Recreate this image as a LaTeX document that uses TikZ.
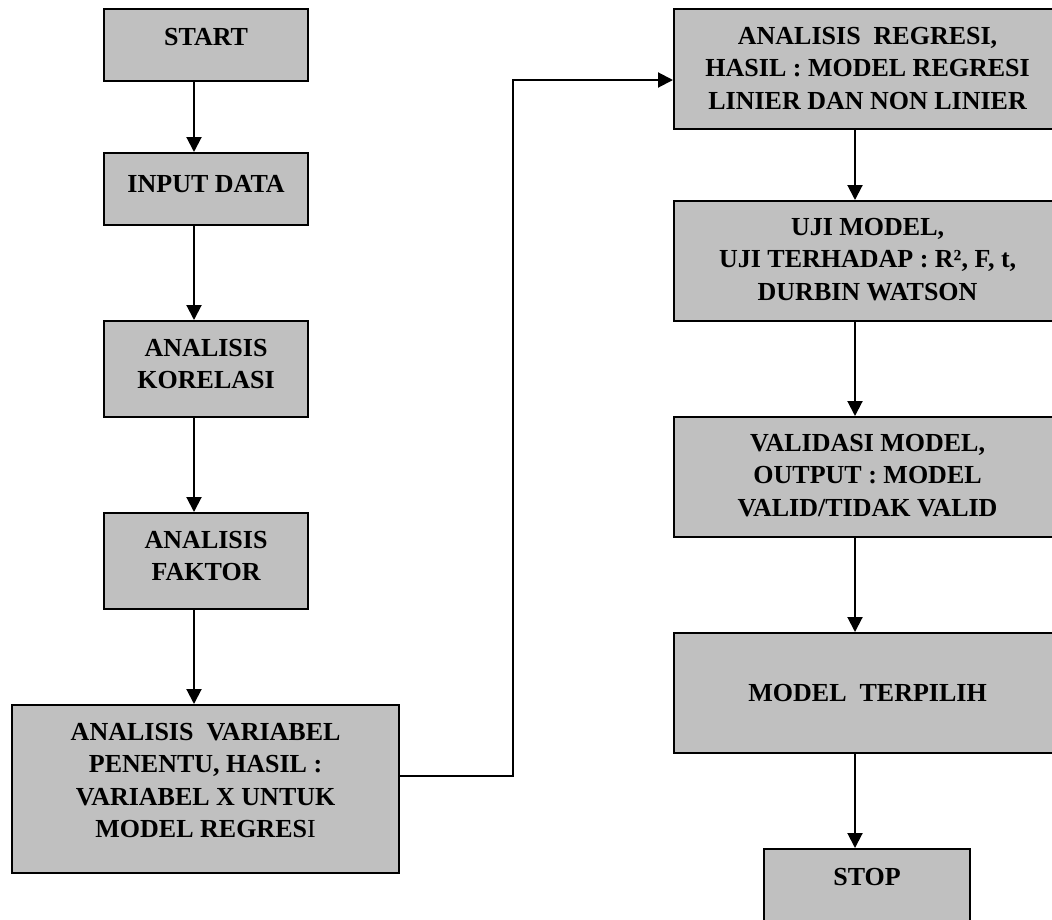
\documentclass[tikz,border=0pt]{standalone}
\usepackage{fontspec}
\setmainfont{Liberation Serif}
\usetikzlibrary{arrows.meta}
\definecolor{boxgray}{HTML}{C0C0C0}
\newcommand{\fcb}[4]{\parbox[c][#2][t]{#1}{\vspace*{#3}\centering #4\par}}
\begin{document}
\begin{tikzpicture}[x=1pt,y=-1pt,
  bx/.style={draw=black, line width=2.2pt, fill=boxgray, inner sep=0pt, anchor=north west,
    font=\fontsize{26}{32.5}\selectfont\bfseries},
  arr/.style={draw=black, line width=2pt, -{Triangle[width=15pt,length=15pt]}}]
\useasboundingbox (0,0) rectangle (1052,919);
\clip (0,0) rectangle (1052,919);
% left column
\node[bx] (start) at (103,8) {\fcb{204pt}{72pt}{19pt}{START}};
\node[bx] (input) at (103,152) {\fcb{204pt}{72pt}{22pt}{INPUT DATA}};
\node[bx] (kor) at (103,320) {\fcb{204pt}{96pt}{18pt}{ANALISIS\\KORELASI}};
\node[bx] (fak) at (103,512) {\fcb{204pt}{96pt}{18pt}{ANALISIS\\FAKTOR}};
\node[bx] (var) at (11,704) {\fcb{387pt}{168pt}{18pt}{ANALISIS~~VARIABEL\\PENENTU, HASIL :\\VARIABEL X UNTUK\\MODEL REGRES{\mdseries I}}};
% right column
\node[bx] (reg) at (673,8) {\fcb{387pt}{120pt}{18pt}{ANALISIS~~REGRESI,\\HASIL : MODEL REGRESI\\LINIER DAN NON LINIER}};
\node[bx] (uji) at (673,200) {\fcb{387pt}{120pt}{17pt}{UJI MODEL,\\UJI TERHADAP : R², F, t,\\DURBIN WATSON}};
\node[bx] (val) at (673,416) {\fcb{387pt}{120pt}{17pt}{VALIDASI MODEL,\\OUTPUT : MODEL\\VALID/TIDAK VALID}};
\node[bx] (mod) at (673,632) {\fcb{387pt}{120pt}{51pt}{MODEL~~TERPILIH}};
\node[bx] (stop) at (763,848) {\fcb{206pt}{120pt}{19pt}{STOP}};
% arrow columns
\coordinate (lx) at (194,0);
\coordinate (rx) at (855,0);
\draw[arr] (start.south -| lx) -- (input.north -| lx);
\draw[arr] (input.south -| lx) -- (kor.north -| lx);
\draw[arr] (kor.south -| lx) -- (fak.north -| lx);
\draw[arr] (fak.south -| lx) -- (var.north -| lx);
\draw[arr] (reg.south -| rx) -- (uji.north -| rx);
\draw[arr] (uji.south -| rx) -- (val.north -| rx);
\draw[arr] (val.south -| rx) -- (mod.north -| rx);
\draw[arr] (mod.south -| rx) -- (stop.north -| rx);
% link between columns
\coordinate (c1) at (513,776);
\coordinate (c2) at (513,80);
\draw[arr] (var.east |- c1) -- (c1) -- (c2) -- (reg.west |- c2);
\end{tikzpicture}
\end{document}
